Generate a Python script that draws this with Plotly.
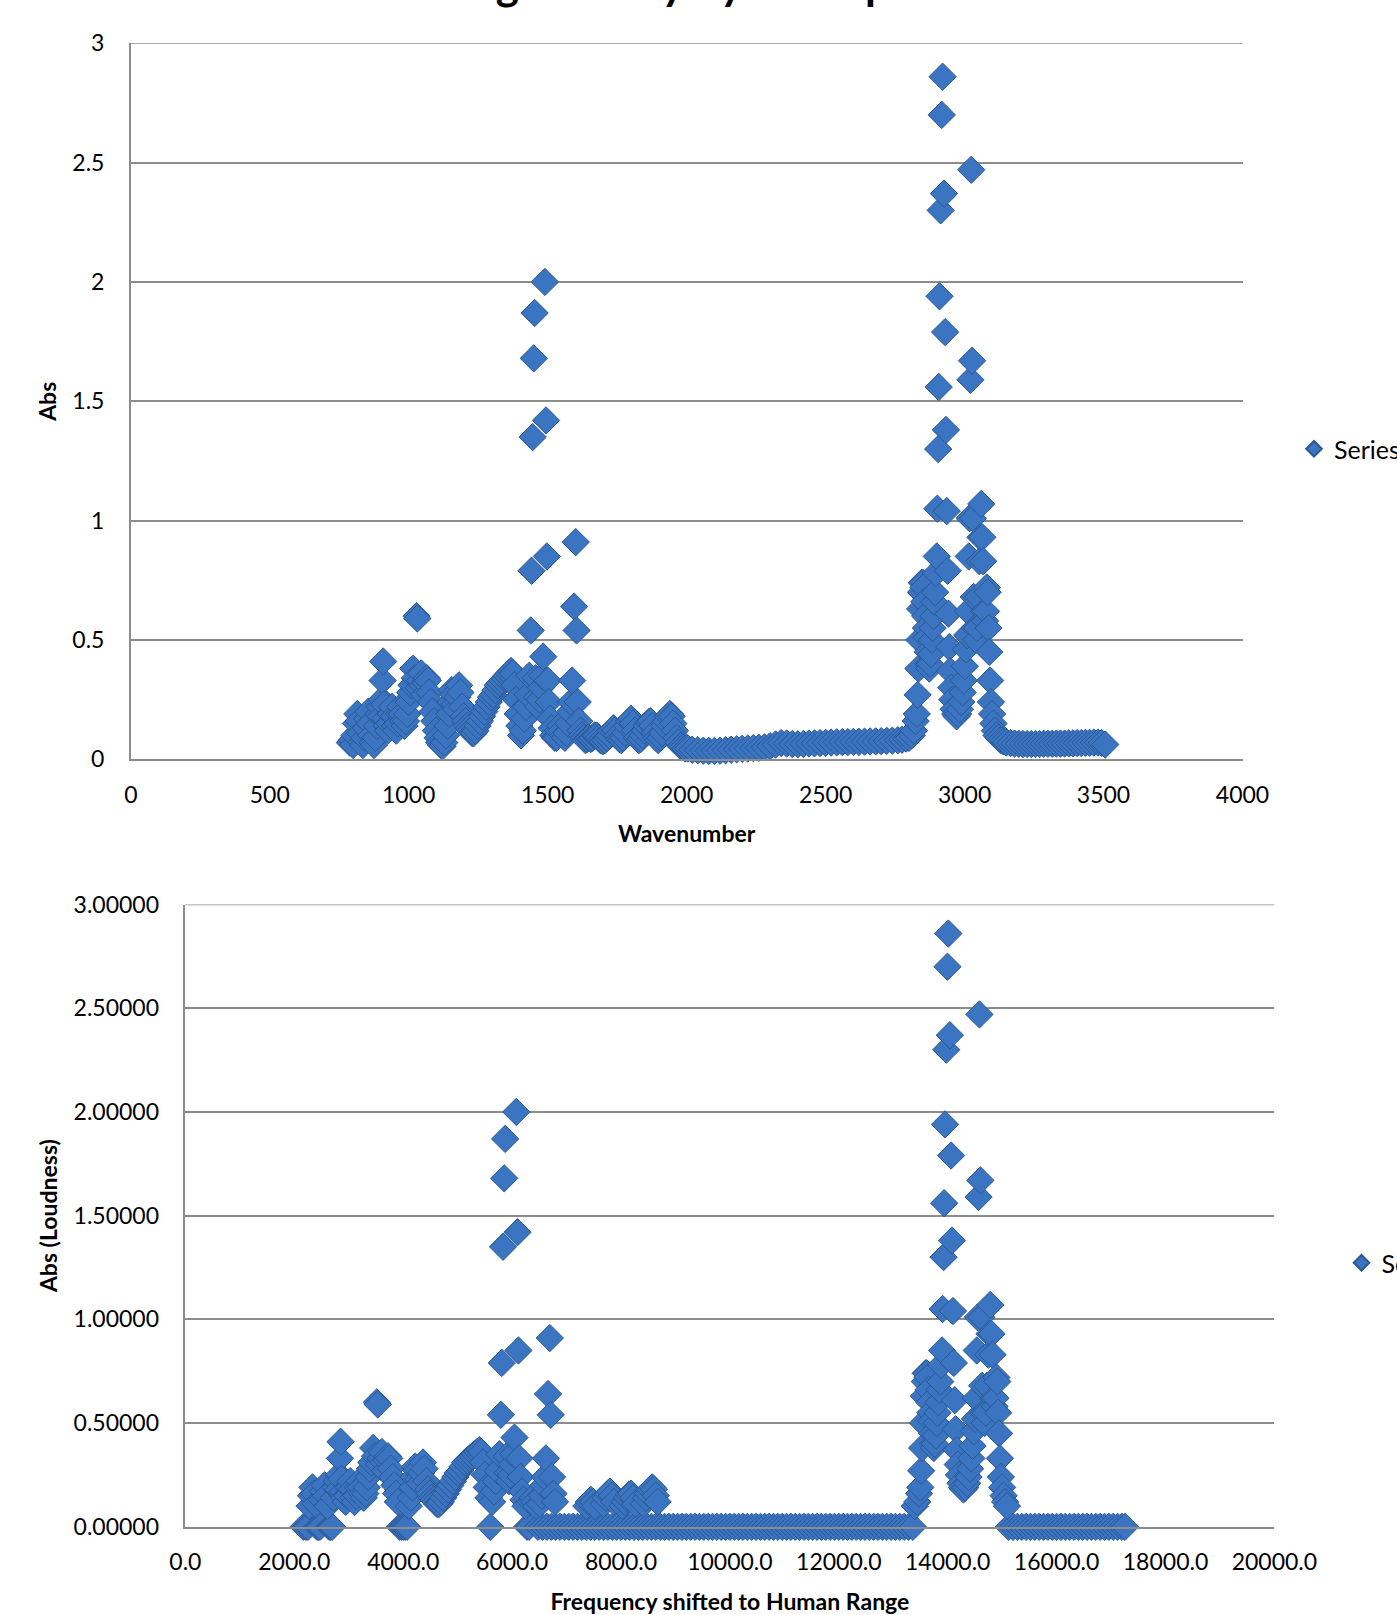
import plotly.graph_objects as go

# ---------------- Top chart data (wavenumber vs absorbance) ----------------
fp_wn = [788, 795, 800, 805, 810, 815, 820, 825, 830, 835,
         840, 845, 850, 855, 860, 865, 870, 875, 880, 885,
         890, 895, 900, 903, 906, 908, 911, 915, 920, 925,
         930, 935, 940, 945, 950, 955, 960, 965, 970, 975,
         980, 985, 990, 995, 1000, 1005, 1010, 1016, 1022, 1028,
         1031, 1035, 1040, 1045, 1050, 1055, 1060, 1065, 1069, 1074,
         1080, 1086, 1092, 1098, 1104, 1110, 1116, 1122, 1128, 1134,
         1140, 1146, 1150, 1155, 1160, 1165, 1170, 1175, 1181, 1186,
         1192, 1198, 1204, 1210, 1216, 1222, 1228, 1234, 1240, 1248,
         1256, 1264, 1272, 1280, 1288, 1296, 1304, 1312, 1320, 1328,
         1336, 1344, 1352, 1360, 1368, 1374, 1380, 1386, 1392, 1398]
fp_abs = [0.07, 0.08, 0.06, 0.10, 0.15, 0.19, 0.16, 0.11, 0.07, 0.06,
          0.09, 0.13, 0.17, 0.20, 0.15, 0.10, 0.07, 0.06, 0.09, 0.14,
          0.19, 0.22, 0.18, 0.25, 0.33, 0.41, 0.23, 0.17, 0.14, 0.12,
          0.15, 0.19, 0.22, 0.18, 0.14, 0.12, 0.15, 0.19, 0.22, 0.19,
          0.16, 0.14, 0.16, 0.19, 0.24, 0.28, 0.31, 0.38, 0.34, 0.60,
          0.59, 0.30, 0.33, 0.36, 0.31, 0.27, 0.32, 0.34, 0.33, 0.28,
          0.24, 0.20, 0.16, 0.12, 0.09, 0.07, 0.06, 0.055, 0.07, 0.10,
          0.14, 0.19, 0.24, 0.29, 0.27, 0.23, 0.21, 0.26, 0.31, 0.28,
          0.22, 0.18, 0.16, 0.14, 0.13, 0.12, 0.11, 0.11, 0.12, 0.14,
          0.16, 0.18, 0.20, 0.22, 0.24, 0.26, 0.27, 0.29, 0.31, 0.32,
          0.33, 0.34, 0.35, 0.36, 0.37, 0.36, 0.31, 0.25, 0.19, 0.14]

arom_wn = [1404, 1410, 1416, 1422, 1428, 1434, 1439, 1442, 1446, 1450,
           1453, 1457, 1461, 1466, 1471, 1476, 1480, 1484, 1490, 1494,
           1497, 1500, 1504, 1509, 1514, 1520, 1526, 1532, 1538, 1544,
           1550, 1556, 1562, 1568, 1574, 1580, 1584, 1588, 1595, 1601,
           1604, 1608, 1613, 1618]
arom_abs = [0.10, 0.12, 0.17, 0.22, 0.27, 0.35, 0.54, 0.79, 1.35, 1.68,
            1.87, 0.34, 0.26, 0.22, 0.25, 0.30, 0.35, 0.43, 2.00, 1.42,
            0.85, 0.33, 0.24, 0.17, 0.13, 0.10, 0.09, 0.09, 0.12, 0.14,
            0.12, 0.10, 0.09, 0.11, 0.15, 0.20, 0.24, 0.33, 0.64, 0.91,
            0.54, 0.24, 0.16, 0.12]

overtone_wn = [1624, 1630, 1636, 1642, 1648, 1655, 1662, 1669, 1676, 1683,
               1690, 1698, 1706, 1714, 1722, 1730, 1737, 1744, 1751, 1758,
               1765, 1772, 1779, 1786, 1793, 1800, 1807, 1814, 1821, 1828,
               1835, 1842, 1849, 1856, 1863, 1870, 1877, 1884, 1891, 1898,
               1905, 1912, 1919, 1926, 1933, 1940, 1946, 1952, 1958, 1964,
               1970, 1978, 1986, 1995]
overtone_abs = [0.10, 0.09, 0.08, 0.085, 0.09, 0.085, 0.09, 0.10, 0.10, 0.09,
                0.08, 0.075, 0.08, 0.09, 0.10, 0.12, 0.13, 0.12, 0.10, 0.085,
                0.08, 0.09, 0.11, 0.14, 0.16, 0.17, 0.15, 0.12, 0.09, 0.08,
                0.085, 0.10, 0.12, 0.14, 0.155, 0.16, 0.14, 0.11, 0.09, 0.08,
                0.09, 0.11, 0.14, 0.16, 0.18, 0.19, 0.18, 0.15, 0.12, 0.09,
                0.07, 0.055, 0.05, 0.045]

base_wn = [2005, 2020, 2040, 2060, 2080, 2100, 2120, 2140, 2160, 2180,
           2200, 2220, 2240, 2260, 2280, 2300, 2320, 2340, 2360, 2380,
           2400, 2420, 2440, 2460, 2480, 2500, 2520, 2540, 2560, 2580,
           2600, 2620, 2640, 2660, 2680, 2700, 2720, 2740, 2760, 2775,
           2790, 2800, 2810, 2818]
base_abs = [0.045, 0.040, 0.038, 0.036, 0.035, 0.035, 0.036, 0.038, 0.040, 0.042,
            0.044, 0.045, 0.047, 0.048, 0.050, 0.055, 0.062, 0.068, 0.066, 0.064,
            0.063, 0.064, 0.066, 0.067, 0.068, 0.069, 0.070, 0.071, 0.072, 0.072,
            0.073, 0.073, 0.074, 0.075, 0.075, 0.076, 0.077, 0.078, 0.080, 0.082,
            0.087, 0.090, 0.10, 0.12]

ch_wn = [2824, 2828, 2831, 2834, 2837, 2840, 2843, 2846, 2849, 2852,
         2855, 2858, 2861, 2864, 2867, 2870, 2873, 2876, 2879, 2882,
         2885, 2888, 2891, 2894, 2897, 2900, 2902, 2905, 2907, 2910,
         2914, 2918, 2921, 2926, 2930, 2933, 2936, 2939, 2942, 2945,
         2948, 2952, 2956, 2961, 2966, 2971, 2977, 2983, 2988, 2993,
         2997, 3001, 3005, 3009, 3012, 3015, 3018, 3021, 3024, 3027,
         3030, 3033, 3037, 3041, 3045, 3049, 3053, 3057, 3060, 3064,
         3067, 3070, 3074, 3077, 3080, 3083, 3086, 3089, 3092, 3095,
         3099, 3104, 3109, 3115]
ch_abs = [0.16, 0.19, 0.27, 0.38, 0.50, 0.63, 0.70, 0.74, 0.74, 0.72,
          0.66, 0.60, 0.55, 0.51, 0.45, 0.40, 0.38, 0.40, 0.44, 0.50,
          0.55, 0.60, 0.66, 0.70, 0.78, 0.85, 1.05, 1.30, 1.56, 1.94,
          2.30, 2.70, 2.86, 2.37, 1.79, 1.38, 1.04, 0.79, 0.61, 0.47,
          0.37, 0.30, 0.25, 0.21, 0.19, 0.18, 0.19, 0.21, 0.24, 0.28,
          0.33, 0.39, 0.46, 0.52, 0.62, 0.85, 1.01, 1.59, 2.47, 1.67,
          1.01, 0.68, 0.55, 0.50, 0.55, 0.68, 0.83, 0.93, 1.07, 0.93,
          0.83, 0.62, 0.58, 0.62, 0.72, 0.70, 0.55, 0.45, 0.33, 0.24,
          0.19, 0.15, 0.12, 0.10]

tail_wn = [3122, 3130, 3140, 3150, 3165, 3180, 3195, 3210, 3225, 3240,
           3255, 3270, 3285, 3300, 3315, 3330, 3345, 3360, 3375, 3390,
           3405, 3420, 3435, 3450, 3465, 3480, 3493, 3506]
tail_abs = [0.090, 0.080, 0.075, 0.070, 0.068, 0.066, 0.065, 0.064, 0.064, 0.064,
            0.064, 0.064, 0.065, 0.065, 0.065, 0.066, 0.066, 0.066, 0.067, 0.067,
            0.068, 0.068, 0.069, 0.069, 0.070, 0.070, 0.068, 0.062]

# ---------------- Bottom chart data (frequency vs loudness) ----------------
low_zero_freq = [2170, 2212, 2251, 2417, 2445, 2473, 2639, 2667, 2694, 3936,
                 3970, 4003, 4037, 4070, 5600, 6276, 6310, 6476]
low_zero_loud = [0, 0, 0, 0, 0, 0, 0, 0, 0, 0,
                 0, 0, 0, 0, 0, 0, 0, 0]

mid_zero_freq = [6560, 6640, 6720, 6800, 6880, 6960, 7040, 7120, 7200, 7280,
                 7360, 7440, 7520, 7600, 7680, 7760, 7840, 7920, 8000, 8080,
                 8160, 8240, 8320, 8400, 8480, 8560, 8640, 8720, 8800, 8880,
                 8960, 9040, 9120, 9200, 9280, 9360, 9440, 9520, 9600, 9680,
                 9760, 9840, 9920, 10000, 10080, 10160, 10240, 10320, 10400, 10480,
                 10560, 10640, 10720, 10800, 10880, 10960, 11040, 11120, 11200, 11280,
                 11360, 11440, 11520, 11600, 11680, 11760, 11840, 11920, 12000, 12080,
                 12160, 12240, 12320, 12400, 12480, 12560, 12640, 12720, 12800, 12880,
                 12960, 13040, 13120, 13200, 13280, 13360]
mid_zero_loud = [0, 0, 0, 0, 0, 0, 0, 0, 0, 0,
                 0, 0, 0, 0, 0, 0, 0, 0, 0, 0,
                 0, 0, 0, 0, 0, 0, 0, 0, 0, 0,
                 0, 0, 0, 0, 0, 0, 0, 0, 0, 0,
                 0, 0, 0, 0, 0, 0, 0, 0, 0, 0,
                 0, 0, 0, 0, 0, 0, 0, 0, 0, 0,
                 0, 0, 0, 0, 0, 0, 0, 0, 0, 0,
                 0, 0, 0, 0, 0, 0, 0, 0, 0, 0,
                 0, 0, 0, 0, 0, 0]

high_zero_freq = [15120, 15200, 15280, 15360, 15440, 15520, 15600, 15680, 15760, 15840,
                  15920, 16000, 16080, 16160, 16240, 16320, 16400, 16480, 16560, 16640,
                  16720, 16800, 16880, 16960, 17040, 17120, 17200, 17256]
high_zero_loud = [0, 0, 0, 0, 0, 0, 0, 0, 0, 0,
                  0, 0, 0, 0, 0, 0, 0, 0, 0, 0,
                  0, 0, 0, 0, 0, 0, 0, 0]

b_fp_freq = [2279, 2306, 2334, 2362, 2390, 2501, 2528, 2556, 2584, 2611,
             2722, 2750, 2778, 2806, 2822, 2839, 2850, 2866, 2889, 2916,
             2944, 2972, 2999, 3027, 3055, 3083, 3110, 3138, 3166, 3194,
             3221, 3249, 3277, 3305, 3332, 3360, 3388, 3415, 3449, 3482,
             3515, 3532, 3554, 3582, 3610, 3637, 3665, 3693, 3720, 3743,
             3770, 3804, 3837, 3870, 3903, 4103, 4136, 4170, 4192, 4220,
             4247, 4275, 4303, 4330, 4364, 4391, 4425, 4458, 4491, 4524,
             4558, 4591, 4624, 4658, 4691, 4735, 4780, 4824, 4868, 4913,
             4957, 5001, 5046, 5090, 5134, 5179, 5223, 5268, 5312, 5356,
             5401, 5434, 5467, 5500, 5534, 5567]
b_fp_loud = [0.10, 0.15, 0.19, 0.16, 0.11, 0.13, 0.17, 0.20, 0.15, 0.10,
             0.14, 0.19, 0.22, 0.18, 0.25, 0.33, 0.41, 0.23, 0.17, 0.14,
             0.12, 0.15, 0.19, 0.22, 0.18, 0.14, 0.12, 0.15, 0.19, 0.22,
             0.19, 0.16, 0.14, 0.16, 0.19, 0.24, 0.28, 0.31, 0.38, 0.34,
             0.60, 0.59, 0.30, 0.33, 0.36, 0.31, 0.27, 0.32, 0.34, 0.33,
             0.28, 0.24, 0.20, 0.16, 0.12, 0.10, 0.14, 0.19, 0.24, 0.29,
             0.27, 0.23, 0.21, 0.26, 0.31, 0.28, 0.22, 0.18, 0.16, 0.14,
             0.13, 0.12, 0.11, 0.11, 0.12, 0.14, 0.16, 0.18, 0.20, 0.22,
             0.24, 0.26, 0.27, 0.29, 0.31, 0.32, 0.33, 0.34, 0.35, 0.36,
             0.37, 0.36, 0.31, 0.25, 0.19, 0.14]

b_arom_freq = [5633, 5667, 5700, 5733, 5766, 5794, 5811, 5833, 5855, 5872,
               5894, 5916, 5944, 5972, 5999, 6021, 6044, 6077, 6099, 6116,
               6133, 6155, 6183, 6210, 6243, 6343, 6377, 6410, 6443, 6510,
               6543, 6576, 6599, 6621, 6660, 6693, 6710, 6732, 6760, 6788]
b_arom_loud = [0.12, 0.17, 0.22, 0.27, 0.35, 0.54, 0.79, 1.35, 1.68, 1.87,
               0.34, 0.26, 0.22, 0.25, 0.30, 0.35, 0.43, 2.00, 1.42, 0.85,
               0.33, 0.24, 0.17, 0.13, 0.10, 0.12, 0.14, 0.12, 0.10, 0.11,
               0.15, 0.20, 0.24, 0.33, 0.64, 0.91, 0.54, 0.24, 0.16, 0.12]

b_overtone_freq = [7364, 7408, 7447, 7486, 7524, 7680, 7719, 7758, 7796, 7835,
                   7874, 8029, 8068, 8107, 8145, 8184, 8223, 8262, 8417, 8456,
                   8494, 8533, 8574, 8607, 8640, 8673]
b_overtone_loud = [0.10, 0.12, 0.13, 0.12, 0.10, 0.11, 0.14, 0.16, 0.17, 0.15,
                   0.12, 0.10, 0.12, 0.14, 0.155, 0.16, 0.14, 0.11, 0.11, 0.14,
                   0.16, 0.18, 0.19, 0.18, 0.15, 0.12]

b_ch_freq = [13396, 13441, 13474, 13497, 13513, 13530, 13546, 13563, 13580, 13596,
             13613, 13630, 13646, 13663, 13680, 13696, 13713, 13730, 13746, 13763,
             13780, 13796, 13813, 13830, 13846, 13863, 13880, 13896, 13907, 13924,
             13935, 13951, 13974, 13996, 14012, 14040, 14062, 14079, 14096, 14112,
             14129, 14146, 14162, 14184, 14207, 14234, 14262, 14290, 14323, 14356,
             14384, 14412, 14434, 14456, 14478, 14500, 14517, 14534, 14550, 14567,
             14583, 14600, 14617, 14633, 14655, 14678, 14700, 14722, 14744, 14766,
             14783, 14805, 14822, 14838, 14860, 14877, 14894, 14911, 14927, 14944,
             14960, 14977, 14999, 15027, 15055, 15088]
b_ch_loud = [0.10, 0.12, 0.16, 0.19, 0.27, 0.38, 0.50, 0.63, 0.70, 0.74,
             0.74, 0.72, 0.66, 0.60, 0.55, 0.51, 0.45, 0.40, 0.38, 0.40,
             0.44, 0.50, 0.55, 0.60, 0.66, 0.70, 0.78, 0.85, 1.05, 1.30,
             1.56, 1.94, 2.30, 2.70, 2.86, 2.37, 1.79, 1.38, 1.04, 0.79,
             0.61, 0.47, 0.37, 0.30, 0.25, 0.21, 0.19, 0.18, 0.19, 0.21,
             0.24, 0.28, 0.33, 0.39, 0.46, 0.52, 0.62, 0.85, 1.01, 1.59,
             2.47, 1.67, 1.01, 0.68, 0.55, 0.50, 0.55, 0.68, 0.83, 0.93,
             1.07, 0.93, 0.83, 0.62, 0.58, 0.62, 0.72, 0.70, 0.55, 0.45,
             0.33, 0.24, 0.19, 0.15, 0.12, 0.10]

# ---------------- Assemble ----------------
wavenumber = fp_wn + arom_wn + overtone_wn + base_wn + ch_wn + tail_wn
absorbance = fp_abs + arom_abs + overtone_abs + base_abs + ch_abs + tail_abs

frequency = (low_zero_freq + mid_zero_freq + high_zero_freq
             + b_fp_freq + b_arom_freq + b_overtone_freq + b_ch_freq)
loudness = (low_zero_loud + mid_zero_loud + high_zero_loud
            + b_fp_loud + b_arom_loud + b_overtone_loud + b_ch_loud)

W, H = 1397, 1615
FONT = "Lato, 'Open Sans', sans-serif"
GRID = "#8c8c8c"

marker = dict(symbol="diamond", size=21, color="#3b74c0",
              line=dict(color="#2a5895", width=1))

fig = go.Figure()
fig.add_trace(go.Scatter(x=wavenumber, y=absorbance, mode="markers", name="Series1",
                         marker=marker, xaxis="x", yaxis="y", legend="legend",
                         showlegend=True, cliponaxis=False))
fig.add_trace(go.Scatter(x=frequency, y=loudness, mode="markers", name="Series1",
                         marker=marker, xaxis="x2", yaxis="y2", legend="legend2",
                         showlegend=True, cliponaxis=False))


def px_x(p):
    return p / W


def px_y(p):
    return 1 - p / H


axis_common = dict(showline=True, linecolor=GRID, linewidth=1.5, zeroline=False,
                   ticks="", automargin=False,
                   tickfont=dict(family=FONT, size=23, color="#000000"))

fig.update_layout(
    width=W, height=H,
    showlegend=True,
    margin=dict(l=0, r=0, t=0, b=0, autoexpand=False),
    paper_bgcolor="white", plot_bgcolor="white",
    font=dict(family=FONT, size=23, color="#000000"),
    xaxis=dict(domain=[px_x(130.8), px_x(1242.5)], anchor="y", range=[0, 4000],
               tick0=0, dtick=500, showgrid=False, ticklabelstandoff=14,
               title=dict(text="<b>Wavenumber</b>", standoff=19,
                          font=dict(family=FONT, size=23)),
               **axis_common),
    yaxis=dict(domain=[px_y(759.3), px_y(43.3)], anchor="x", range=[0, 3],
               tick0=0, dtick=0.5, showgrid=True, gridcolor=GRID, gridwidth=1.5,
               ticklabelstandoff=20,
               title=dict(text="<b>Abs</b>", standoff=9,
                          font=dict(family=FONT, size=23)),
               **axis_common),
    xaxis2=dict(domain=[px_x(185.4), px_x(1274.4)], anchor="y2", range=[0, 20000],
                tick0=0, dtick=2000, tickformat=".1f", showgrid=False,
                ticklabelstandoff=14,
                title=dict(text="<b>Frequency shifted to Human Range</b>", standoff=20,
                           font=dict(family=FONT, size=23)),
                **axis_common),
    yaxis2=dict(domain=[px_y(1526.8), px_y(904.5)], anchor="x2", range=[0, 3],
                tick0=0, dtick=0.5, tickformat=".5f", showgrid=True,
                gridcolor=GRID, gridwidth=1.5, ticklabelstandoff=20,
                title=dict(text="<b>Abs (Loudness)</b>", standoff=10,
                           font=dict(family=FONT, size=23)),
                **axis_common),
    legend=dict(x=px_x(1294), y=px_y(449), xanchor="left", yanchor="middle",
                itemsizing="constant", bgcolor="rgba(0,0,0,0)",
                font=dict(family=FONT, size=25)),
    legend2=dict(x=px_x(1341.5), y=px_y(1263), xanchor="left", yanchor="middle",
                 itemsizing="constant", bgcolor="rgba(0,0,0,0)",
                 font=dict(family=FONT, size=25)),
    shapes=[
        dict(type="line", xref="x domain", yref="y", x0=0, x1=1, y0=3, y1=3,
             line=dict(color=GRID, width=1.5), layer="below"),
        dict(type="line", xref="x2 domain", yref="y2", x0=0, x1=1, y0=3, y1=3,
             line=dict(color=GRID, width=1.5), layer="below"),
    ],
    annotations=[dict(text="<b>Original Polystyrene Spectrum</b>", xref="paper",
                      yref="paper", x=px_x(731), y=px_y(-17), xanchor="center",
                      yanchor="middle", showarrow=False,
                      font=dict(family=FONT, size=44, color="#000000"))],
)

fig.write_html("out.html",
               config={"displayModeBar": False},
               post_script="document.body.style.margin='0';"
                           "document.body.style.overflow='hidden';")
